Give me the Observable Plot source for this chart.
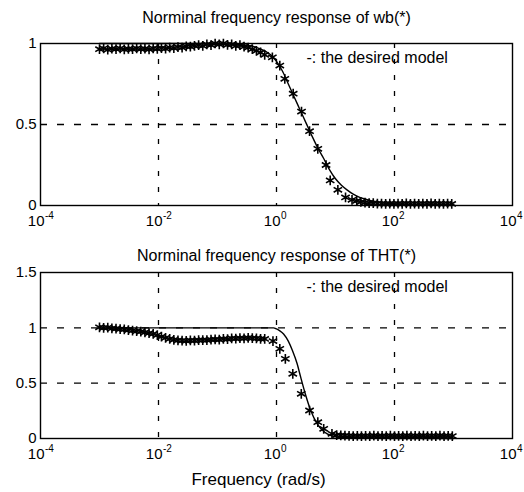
<!DOCTYPE html>
<html>
<head>
<meta charset="utf-8">
<script src="https://cdn.jsdelivr.net/npm/d3@7"></script>
<script src="https://cdn.jsdelivr.net/npm/@observablehq/plot@0.6"></script>
<style>
  html, body { margin: 0; padding: 0; background: #fff; }
  #chart svg { display: block; }
</style>
</head>
<body>
<div id="chart"></div>
<script>
// ---------- data (frequency given as log10 exponent) ----------
const xTickExps = [-4, -2, 0, 2, 4];
const xTickSup = ["-4", "-2", "0", "2", "4"];
const xGridExps = [-2, 0, 2];

// Top panel: wb(*)
const wbStarExp = [-3.00,-2.93,-2.86,-2.79,-2.72,-2.65,-2.58,-2.51,-2.44,-2.37,-2.30,-2.23,-2.16,-2.09,-2.02,-1.95,-1.88,-1.81,-1.74,-1.67,-1.60,-1.53,-1.46,-1.39,-1.32,-1.25,-1.18,-1.11,-1.04,-0.97,-0.90,-0.83,-0.76,-0.69,-0.62,-0.55,-0.48,-0.41,-0.34,-0.27,-0.20,
  -0.07,0.056,0.141,0.283,0.424,0.56,0.70,0.84,0.91,1.04,1.17,
  1.28,1.36,1.43,1.50,1.57,1.64,1.71,1.78,1.85,1.92,1.99,2.06,2.13,2.20,2.27,2.34,2.41,2.48,2.55,2.62,2.69,2.76,2.83,2.90,2.97];
const wbStarVal = [0.965,0.97,0.962,0.968,0.965,0.97,0.963,0.967,0.965,0.97,0.966,0.968,0.964,0.97,0.967,0.972,0.968,0.975,0.972,0.978,0.975,0.982,0.98,0.985,0.99,0.985,0.995,0.99,1.0,0.995,1.0,0.992,0.995,0.985,0.99,0.98,0.975,0.965,0.955,0.945,0.93,
  0.915,0.864,0.782,0.69,0.58,0.459,0.35,0.25,0.155,0.097,0.05,
  0.035,0.028,0.022,0.018,0.015,0.014,0.012,0.012,0.01,0.012,0.01,0.012,0.01,0.013,0.01,0.012,0.01,0.012,0.01,0.013,0.01,0.012,0.01,0.012,0.01];
const wbModelExp = [-3,-1,-0.5,-0.3,-0.1,0.0,0.1,0.2,0.3,0.4,0.5,0.6,0.7,0.8,0.9,1.0,1.1,1.2,1.3,1.4,1.5,1.6,1.8,2.0,2.5,3.0];
const wbModelVal = [1.0,1.0,0.99,0.97,0.93,0.89,0.83,0.75,0.67,0.59,0.51,0.43,0.355,0.29,0.22,0.165,0.125,0.095,0.07,0.052,0.04,0.03,0.017,0.01,0.003,0.001];

// Bottom panel: THT(*)
const thtStarExp = [-3.00,-2.93,-2.86,-2.79,-2.72,-2.65,-2.58,-2.51,-2.44,-2.37,-2.30,-2.23,-2.16,-2.09,-2.02,-1.95,-1.88,-1.81,-1.74,-1.67,-1.60,-1.53,-1.46,-1.39,-1.32,-1.25,-1.18,-1.11,-1.04,-0.97,-0.90,-0.83,-0.76,-0.69,-0.62,-0.55,-0.48,-0.41,-0.34,-0.27,-0.20,
  -0.06,0.056,0.15,0.276,0.42,0.56,0.70,0.80,0.94,
  1.02,1.09,1.16,1.23,1.30,1.37,1.44,1.51,1.58,1.65,1.72,1.79,1.86,1.93,2.00,2.07,2.14,2.21,2.28,2.35,2.42,2.49,2.56,2.63,2.70,2.77,2.84,2.91,2.98];
const thtStarVal = [1.005,1.0,1.002,0.995,0.992,0.988,0.985,0.98,0.975,0.97,0.965,0.958,0.952,0.945,0.935,0.92,0.91,0.9,0.892,0.887,0.885,0.882,0.886,0.884,0.888,0.89,0.888,0.893,0.895,0.893,0.9,0.898,0.905,0.902,0.908,0.905,0.91,0.906,0.905,0.9,0.9,
  0.88,0.81,0.72,0.585,0.404,0.253,0.147,0.088,0.042,
  0.03,0.028,0.025,0.024,0.022,0.023,0.021,0.024,0.022,0.025,0.021,0.023,0.022,0.025,0.021,0.024,0.022,0.025,0.022,0.024,0.021,0.025,0.022,0.024,0.022,0.025,0.021,0.024,0.022];
const thtModelExp = [-3,-0.1,-0.05,0.0,0.05,0.12,0.2,0.27,0.35,0.41,0.49,0.58,0.69,0.78,0.86,0.95,1.03,1.2,1.5,3.0];
const thtModelVal = [1.0,1.0,1.0,0.99,0.975,0.945,0.88,0.795,0.675,0.554,0.40,0.253,0.133,0.075,0.042,0.022,0.012,0.004,0.001,0.0];

const titles = ["Norminal frequency response of wb(*)", "Norminal frequency response of THT(*)"];
const legendText = "-: the desired model";
const xLabel = "Frequency (rad/s)";

// ---------- helpers ----------
const toPts = (exps, vals) => exps.map((e, i) => ({f: 10 ** e, v: vals[i]}));
const FONT = "'Liberation Sans', Arial, Helvetica, sans-serif";

function panel({stars, model, yDomain, yTicks, yGrid, title, height, marginTop, marginBottom, titleDy, withXLabel}) {
  const ticks = xTickExps.map((e, i) => ({f: 10 ** e, sup: xTickSup[i]}));
  const marks = [
    Plot.ruleX(xGridExps.map(e => 10 ** e), {stroke: "#000", strokeWidth: 1.3, strokeDasharray: "5,11"}),
    Plot.ruleY(yGrid, {stroke: "#000", strokeWidth: 1.3, strokeDasharray: "7,10"}),
    Plot.frame({stroke: "#000", strokeWidth: 1.4}),
    Plot.line(model, {x: "f", y: "v", stroke: "#000", strokeWidth: 1.4, curve: "monotone-x"}),
    Plot.dot(stars, {x: "f", y: "v", symbol: "asterisk", r: 4.6, stroke: "#000", strokeWidth: 1.6}),
    Plot.text(ticks, {x: "f", text: () => "10", frameAnchor: "bottom", lineAnchor: "middle", dy: 16, dx: 4, textAnchor: "end", fontSize: 15}),
    Plot.text(ticks, {x: "f", text: "sup", frameAnchor: "bottom", lineAnchor: "middle", dy: 10, dx: 4.5, textAnchor: "start", fontSize: 10}),
    Plot.text([title], {frameAnchor: "top", lineAnchor: "middle", dy: titleDy, fontSize: 16, text: d => d, letterSpacing: "-0.2px"}),
    Plot.text([legendText], {frameAnchor: "top-left", lineAnchor: "middle", dx: 266, dy: 14, fontSize: 16, text: d => d, textAnchor: "start", letterSpacing: "-0.1px"})
  ];
  if (withXLabel) {
    marks.push(Plot.text([xLabel], {frameAnchor: "bottom", lineAnchor: "middle", dy: 41, dx: -18, fontSize: 17, text: d => d, letterSpacing: "0.2px"}));
  }
  return Plot.plot({
    width: 524,
    height,
    marginLeft: 40,
    marginRight: 12,
    marginTop,
    marginBottom,
    style: {fontFamily: FONT, fontSize: "15px", color: "#000", background: "#fff"},
    x: {type: "log", domain: [1e-4, 1e4], axis: null},
    y: {domain: yDomain, ticks: yTicks, tickSize: 0, tickPadding: 4, label: null, tickFormat: d => String(d)},
    marks
  });
}

const topPanel = panel({
  stars: toPts(wbStarExp, wbStarVal),
  model: toPts(wbModelExp, wbModelVal),
  yDomain: [0, 1], yTicks: [0, 0.5, 1], yGrid: [0.5],
  title: titles[0], height: 240, marginTop: 43, marginBottom: 35, titleDy: -26, withXLabel: false
});
const bottomPanel = panel({
  stars: toPts(thtStarExp, thtStarVal),
  model: toPts(thtModelExp, thtModelVal),
  yDomain: [0, 1.5], yTicks: [0, 0.5, 1, 1.5], yGrid: [0.5, 1],
  title: titles[1], height: 252, marginTop: 32, marginBottom: 54, titleDy: -17, withXLabel: true
});
document.getElementById("chart").append(topPanel, bottomPanel);
</script>
</body>
</html>
